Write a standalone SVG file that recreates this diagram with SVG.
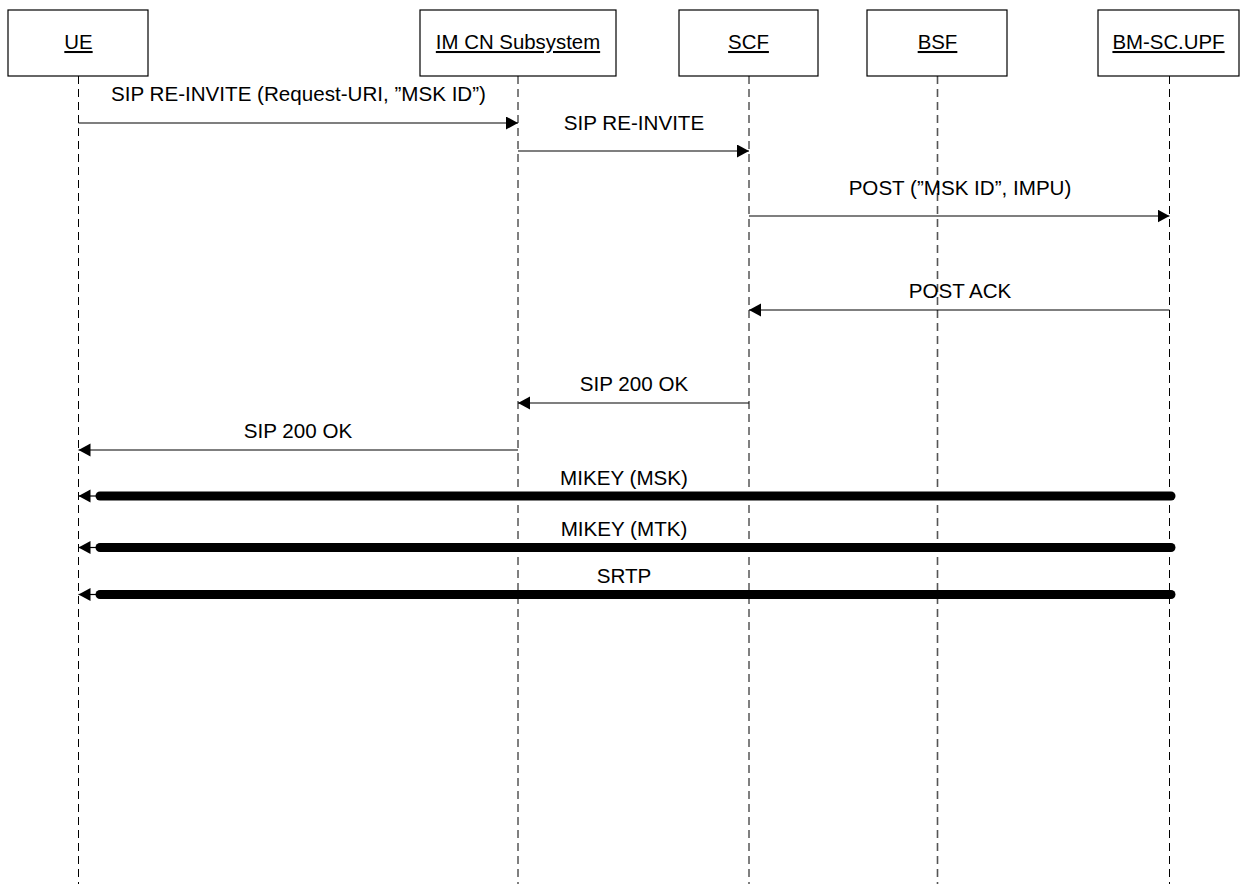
<svg xmlns="http://www.w3.org/2000/svg" width="1241" height="884" viewBox="0 0 1241 884">
<style>
.box{fill:#fff;stroke:#000;stroke-width:1.2}
.ttl{font-family:"Liberation Sans",Arial,sans-serif;font-size:20.4px;text-anchor:middle;text-decoration:underline;fill:#000}
.lbl{font-family:"Liberation Sans",Arial,sans-serif;font-size:20.6px;text-anchor:middle;fill:#000}
.life{stroke:#000;stroke-width:1;stroke-dasharray:8 5;fill:none}
.msg{stroke:#000;stroke-width:1.2;fill:none;marker-end:url(#ah)}
.thick{stroke:#000;stroke-width:9;stroke-linecap:round;fill:none}
</style>
<defs>
<marker id="ah" markerUnits="userSpaceOnUse" markerWidth="13" markerHeight="14" refX="12" refY="6.5" orient="auto">
<path d="M0,0 L12,6.5 L0,13 z" fill="#000"/>
</marker>
</defs>
<g id="lifelines">
<line class="life" x1="78.5" y1="76" x2="78.5" y2="884"/>
<line class="life" x1="518" y1="76" x2="518" y2="884"/>
<line class="life" x1="749" y1="76" x2="749" y2="884"/>
<line class="life" x1="937.5" y1="76" x2="937.5" y2="884" style="stroke:#555;stroke-width:1.6"/>
<line class="life" x1="1169.5" y1="76" x2="1169.5" y2="884"/>
</g>
<g id="node-ue"><rect class="box" x="8" y="10" width="140" height="66"/><text class="ttl" x="78.5" y="49">UE</text></g>
<g id="node-imcn"><rect class="box" x="420" y="10" width="196" height="66"/><text class="ttl" x="518" y="49">IM CN Subsystem</text></g>
<g id="node-scf"><rect class="box" x="679" y="10" width="139" height="66"/><text class="ttl" x="748.5" y="49">SCF</text></g>
<g id="node-bsf"><rect class="box" x="867" y="10" width="140" height="66"/><text class="ttl" x="937.5" y="49">BSF</text></g>
<g id="node-bmsc"><rect class="box" x="1098" y="10" width="141" height="66"/><text class="ttl" x="1168.5" y="49">BM-SC.UPF</text></g>
<g id="connectors">
<line class="msg" x1="78.5" y1="123" x2="518" y2="123"/>
<text class="lbl" x="298.5" y="101">SIP RE-INVITE (Request-URI, ”MSK ID”)</text>
<line class="msg" x1="518" y1="151" x2="749" y2="151"/>
<text class="lbl" x="634" y="130">SIP RE-INVITE</text>
<line class="msg" x1="749" y1="216" x2="1169.5" y2="216"/>
<text class="lbl" x="960" y="195">POST (”MSK ID”, IMPU)</text>
<line class="msg" x1="1169.5" y1="310" x2="749" y2="310"/>
<text class="lbl" x="960" y="298">POST ACK</text>
<line class="msg" x1="749" y1="403" x2="518" y2="403"/>
<text class="lbl" x="634" y="391">SIP 200 OK</text>
<line class="msg" x1="518" y1="450" x2="78.5" y2="450"/>
<text class="lbl" x="298" y="438">SIP 200 OK</text>
<line class="msg" x1="100" y1="496" x2="78.5" y2="496"/>
<line class="thick" x1="100" y1="496" x2="1171" y2="496"/>
<text class="lbl" x="624" y="485">MIKEY (MSK)</text>
<line class="msg" x1="100" y1="547.5" x2="78.5" y2="547.5"/>
<line class="thick" x1="100" y1="547.5" x2="1171" y2="547.5"/>
<text class="lbl" x="624" y="536">MIKEY (MTK)</text>
<line class="msg" x1="100" y1="594.5" x2="78.5" y2="594.5"/>
<line class="thick" x1="100" y1="594.5" x2="1171" y2="594.5"/>
<text class="lbl" x="624" y="583">SRTP</text>
</g>
</svg>
